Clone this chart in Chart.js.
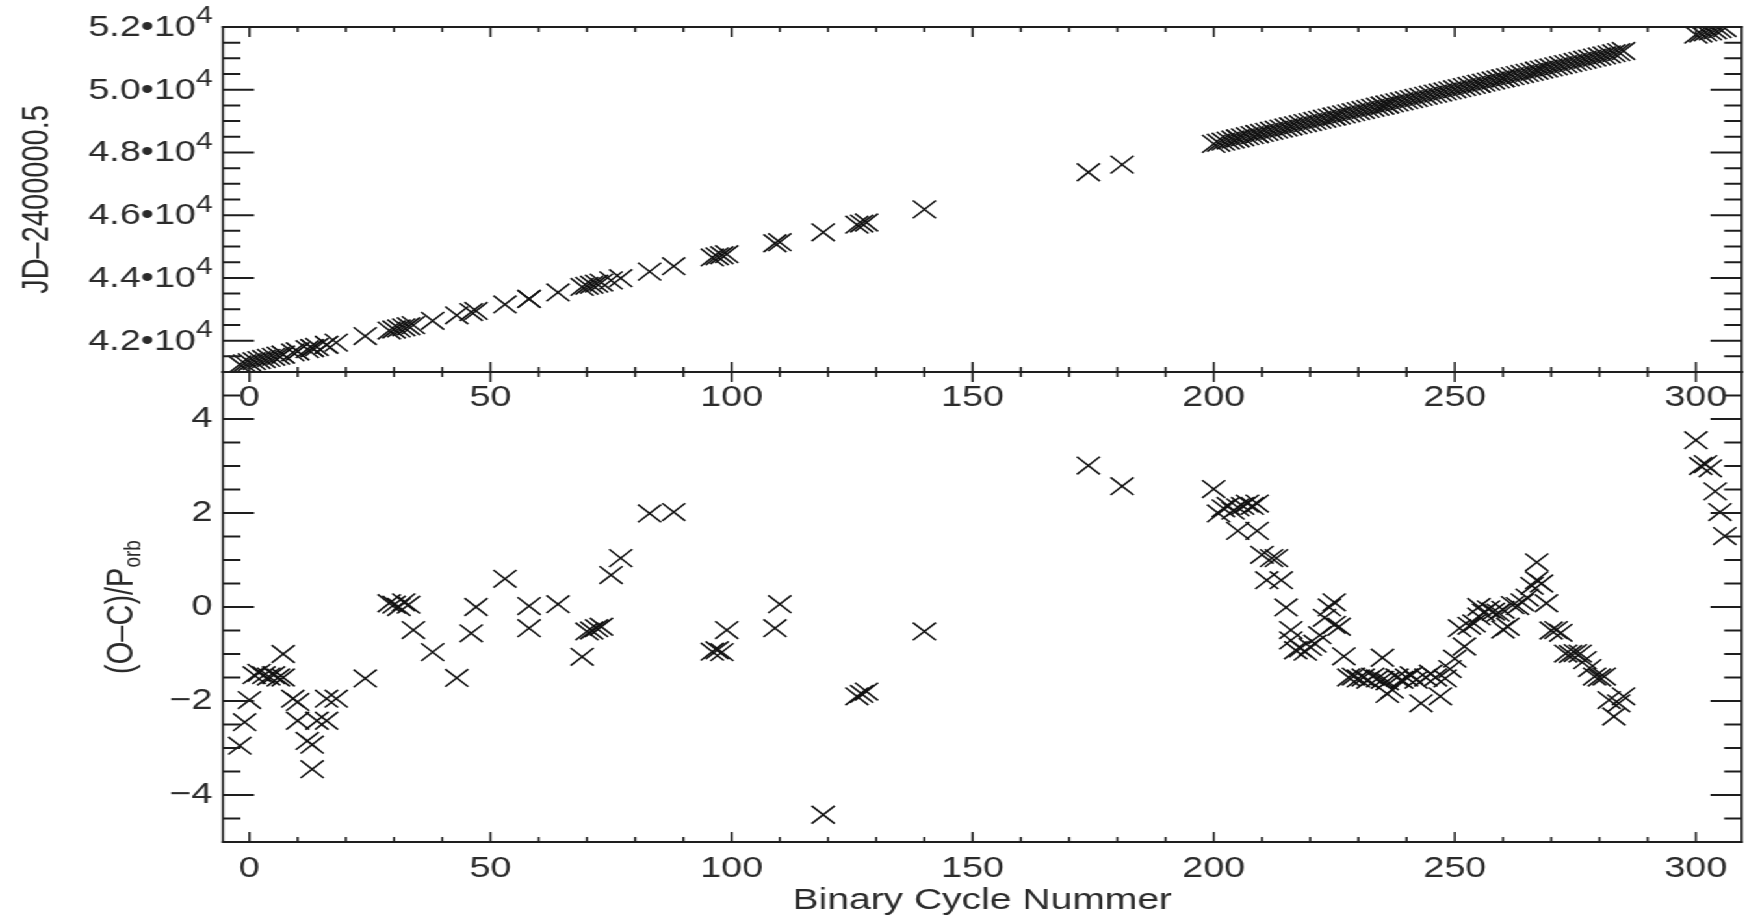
<!DOCTYPE html>
<html>
<head>
<meta charset="utf-8">
<title>Binary cycle timing</title>
<script src="https://cdn.jsdelivr.net/npm/chart.js@4.4.1/dist/chart.umd.min.js"></script>
<style>
  html, body { margin: 0; padding: 0; background: #fff; overflow: hidden; }
  /* the figure is drawn narrow and stretched sideways, like the printed plot */
  #stage { position: absolute; left: 0; top: 0; width: 1354px; height: 920px;
           transform: scaleX(1.29985); transform-origin: 0 0; }
  #stage canvas { position: absolute; left: 0; top: 0; }
</style>
</head>
<body>
<div id="stage">
  <canvas id="ocChart" width="1354" height="920"></canvas>
  <canvas id="jdChart" width="1354" height="920"></canvas>
</div>
<script>
// --- DATA ---

// binary cycle number of each timing measurement
const cycles = [
  -2, -1, 0, 1, 2, 3, 4, 5, 6, 7,
  7, 9, 10, 10, 12, 13, 13, 14, 16, 16,
  18, 24, 29, 30, 31, 32, 33, 34, 38, 43,
  46, 47, 53, 58, 58, 64, 69, 70, 71, 72,
  73, 75, 77, 83, 88, 96, 97, 98, 99, 109,
  110, 119, 126, 127, 128, 140, 174, 181,
  200, 201, 202, 203, 204, 205, 205, 206, 207, 208,
  209, 209, 210, 211, 212, 213, 214, 215, 216, 216,
  217, 218, 219, 220, 221, 222, 223, 224, 225, 225,
  226, 227, 228, 229, 230, 231, 232, 233, 234, 235,
  235, 236, 236, 237, 238, 239, 240, 241, 242, 243,
  244, 245, 246, 247, 248, 249, 250, 251, 252, 253,
  254, 255, 255, 256, 257, 258, 259, 260, 260, 261,
  262, 263, 264, 265, 266, 267, 267, 268, 269, 270,
  271, 272, 273, 274, 275, 276, 277, 278, 279, 280,
  281, 282, 283, 284, 285,
  300, 301, 302, 303, 304, 305, 306
];

// (O-C) in units of the orbital period
const ocValues = [
  -2.95, -2.45, -1.98, -1.45, -1.40, -1.45, -1.48, -1.45, -1.50, -1.00,
  -1.50, -1.95, -2.02, -2.42, -2.85, -2.93, -3.45, -2.42, -2.42, -1.95,
  -1.95, -1.52, 0.08, 0.05, 0.00, 0.10, 0.05, -0.49, -0.96, -1.51,
  -0.56, 0.00, 0.60, -0.45, 0.02, 0.06, -1.06, -0.52, -0.50, -0.45,
  -0.42, 0.68, 1.04, 1.99, 2.02, -0.95, -0.92, -0.96, -0.49, -0.45,
  0.06, -4.42, -1.90, -1.85, -1.80, -0.52, 3.01, 2.57,
  2.51, 1.99, 2.10, 2.15, 2.05, 2.12, 1.62, 2.15, 2.20, 2.15,
  2.20, 1.62, 1.11, 0.57, 1.04, 1.04, 0.57, -0.01, -0.49, -0.71,
  -0.92, -0.88, -0.95, -0.85, -0.78, -0.60, -0.23, -0.01, 0.10, -0.38,
  -0.42, -1.05, -1.50, -1.48, -1.52, -1.50, -1.55, -1.48, -1.52, -1.08,
  -1.55, -1.58, -1.85, -1.76, -1.50, -1.55, -1.50, -1.45, -1.55, -2.05,
  -1.50, -1.42, -1.50, -1.90, -1.52, -1.32, -1.10, -0.45, -0.84, -0.40,
  -0.35, -0.20, 0.00, -0.12, -0.05, -0.10, -0.12, -0.48, -0.06, -0.42,
  0.04, 0.02, 0.10, 0.20, 0.45, 0.95, 0.57, 0.50, 0.08, -0.50,
  -0.49, -0.55, -0.99, -1.00, -0.98, -0.99, -1.13, -1.30, -1.48, -1.50,
  -1.48, -1.98, -2.33, -2.05, -1.90,
  3.55, 3.00, 3.04, 2.95, 2.46, 2.02, 1.51
];

// observed time of each measurement, JD - 2400000.5
const jdValues = [
  41240, 41275, 41310, 41345, 41380, 41414, 41449, 41484, 41519, 41554,
  41554, 41623, 41658, 41658, 41728, 41763, 41763, 41797, 41867, 41867,
  41937, 42146, 42320, 42355, 42389, 42424, 42459, 42494, 42633, 42807,
  42912, 42947, 43155, 43330, 43330, 43538, 43713, 43747, 43782, 43817,
  43852, 43922, 43991, 44200, 44374, 44653, 44688, 44722, 44757, 45105,
  45140, 45454, 45697, 45732, 45767, 46185, 47369, 47612,
  48274, 48309, 48344, 48378, 48413, 48448, 48448, 48483, 48518, 48553,
  48587, 48587, 48622, 48657, 48692, 48727, 48761, 48796, 48831, 48831,
  48866, 48901, 48936, 48970, 49005, 49040, 49075, 49110, 49144, 49144,
  49179, 49214, 49249, 49284, 49319, 49353, 49388, 49423, 49458, 49493,
  49493, 49528, 49528, 49562, 49597, 49632, 49667, 49702, 49736, 49771,
  49806, 49841, 49876, 49911, 49945, 49980, 50015, 50050, 50085, 50119,
  50154, 50189, 50189, 50224, 50259, 50294, 50328, 50363, 50363, 50398,
  50433, 50468, 50502, 50537, 50572, 50607, 50607, 50642, 50677, 50711,
  50746, 50781, 50816, 50851, 50886, 50920, 50955, 50990, 51025, 51060,
  51094, 51129, 51164, 51199, 51234,
  51756, 51791, 51826, 51860, 51895, 51930, 51965
];

// labelled tick values
const cycleTicks = [0, 50, 100, 150, 200, 250, 300];
const jdTicks = [42000, 44000, 46000, 48000, 50000, 52000];
const ocTicks = [-4, -2, 0, 2, 4];

// --- STYLE ---
const INK = '#1e1e1e';
const TEXT = '#2b2b2b';
const FONT = "'Liberation Sans', Arial, Helvetica, sans-serif";
const AXIS_LEFT = 171.5;

// frame round the plot box with inward major and minor ticks on all four sides
const frameTicks = {
  id: 'frameTicks',
  afterDatasetsDraw(chart, args, opts) {
    const {ctx, chartArea: a} = chart;
    const xs = chart.scales.x, ys = chart.scales.y;
    ctx.save();
    ctx.strokeStyle = INK;

    ctx.lineWidth = 2;
    ctx.beginPath();
    ctx.moveTo(a.left - 0.8, a.top); ctx.lineTo(a.right + 0.8, a.top);
    ctx.moveTo(a.left - 0.8, a.bottom); ctx.lineTo(a.right + 0.8, a.bottom);
    const yTick = (v, len) => {
      const p = ys.getPixelForValue(v);
      ctx.moveTo(a.left, p); ctx.lineTo(a.left + len, p);
      ctx.moveTo(a.right, p); ctx.lineTo(a.right - len, p);
    };
    for (let v = Math.ceil(ys.min / opts.yMinor) * opts.yMinor; v <= ys.max; v += opts.yMinor) yTick(v, 13.5);
    opts.yMajor.forEach(v => yTick(v, 24));
    ctx.stroke();

    ctx.lineWidth = 1.6;
    ctx.beginPath();
    ctx.moveTo(a.left, a.top - 1); ctx.lineTo(a.left, a.bottom + 1);
    ctx.moveTo(a.right, a.top - 1); ctx.lineTo(a.right, a.bottom + 1);
    const xTick = (v, len) => {
      const p = xs.getPixelForValue(v);
      ctx.moveTo(p, a.bottom); ctx.lineTo(p, a.bottom - len);
      ctx.moveTo(p, a.top); ctx.lineTo(p, a.top + len);
    };
    for (let v = Math.ceil(xs.min / 10) * 10; v <= xs.max; v += 10) xTick(v, 5);
    cycleTicks.forEach(v => xTick(v, 10));
    ctx.stroke();
    ctx.restore();
  }
};

// JD tick labels as mantissa•10 with a raised exponent
const jdLabels = {
  id: 'jdLabels',
  afterDraw(chart) {
    const {ctx, chartArea: a} = chart;
    const ys = chart.scales.y;
    const right = a.left - 8;
    ctx.save();
    ctx.fillStyle = TEXT;
    ctx.textAlign = 'right';
    ctx.textBaseline = 'middle';
    jdTicks.forEach(v => {
      const p = ys.getPixelForValue(v);
      const exp = Math.floor(Math.log10(v));
      ctx.font = `23px ${FONT}`;
      ctx.fillText(String(exp), right, p - 10);
      const w = ctx.measureText(String(exp)).width;
      ctx.font = `29px ${FONT}`;
      ctx.fillText((v / Math.pow(10, exp)).toFixed(1) + '•10', right - w, p + 1);
    });
    ctx.restore();
  }
};

// (O-C)/P_orb axis title, with the subscript set smaller and lower
const ocTitle = {
  id: 'ocTitle',
  afterDraw(chart) {
    const {ctx, chartArea: a} = chart;
    const main = '(O–C)/P', sub = 'orb';
    ctx.save();
    ctx.translate(94, (a.top + a.bottom) / 2);
    ctx.rotate(-Math.PI / 2);
    ctx.fillStyle = TEXT;
    ctx.textBaseline = 'middle';
    ctx.font = `29px ${FONT}`;
    const w1 = ctx.measureText(main).width;
    ctx.font = `19px ${FONT}`;
    const w2 = ctx.measureText(sub).width;
    const x0 = -(w1 + w2) / 2;
    ctx.font = `29px ${FONT}`;
    ctx.fillText(main, x0, 0);
    ctx.font = `19px ${FONT}`;
    ctx.fillText(sub, x0 + w1, 9);
    ctx.restore();
  }
};

function cycleScale(height, padding, title) {
  return {
    type: 'linear',
    min: -5.5,
    max: 309.5,
    grid: { display: false, drawTicks: false },
    border: { display: false },
    afterBuildTicks: s => { s.ticks = cycleTicks.map(v => ({ value: v })); },
    afterFit: s => { s.height = height; },
    ticks: { padding, color: TEXT, maxRotation: 0, autoSkip: false, font: { family: FONT, size: 29 } },
    title: title ? {
      display: true, text: title, color: TEXT,
      font: { family: FONT, size: 30 }, padding: { top: 0, bottom: 1 }
    } : { display: false }
  };
}

function crosses(values) {
  return {
    data: cycles.map((c, i) => ({ x: c, y: values[i] })),
    pointStyle: 'crossRot',
    pointRadius: 12.5,
    pointBorderWidth: 1.6,
    pointBorderColor: '#111',
    pointBackgroundColor: '#111',
    showLine: false,
    clip: 0
  };
}

const common = {
  responsive: false,
  animation: false,
  events: [],
  plugins: { legend: { display: false }, tooltip: { enabled: false } }
};

// lower panel: (O-C) against cycle number
new Chart(document.getElementById('ocChart'), {
  type: 'scatter',
  data: { datasets: [crosses(ocValues)] },
  plugins: [frameTicks, ocTitle],
  options: {
    ...common,
    layout: { padding: { top: 372, right: 7, left: 0, bottom: 0 } },
    plugins: { ...common.plugins, frameTicks: { yMajor: ocTicks, yMinor: 0.5 } },
    scales: {
      x: cycleScale(78, 10, 'Binary Cycle Nummer'),
      y: {
        type: 'linear', min: -5, max: 5,
        grid: { display: false, drawTicks: false },
        border: { display: false },
        afterBuildTicks: s => { s.ticks = ocTicks.map(v => ({ value: v })); },
        afterFit: s => { s.width = AXIS_LEFT; },
        ticks: {
          padding: 8, color: TEXT, font: { family: FONT, size: 29 },
          callback: v => v < 0 ? '\u2212' + Math.abs(v) : String(v)
        }
      }
    }
  }
});

// upper panel: observed JD against cycle number
new Chart(document.getElementById('jdChart'), {
  type: 'scatter',
  data: { datasets: [crosses(jdValues)] },
  plugins: [frameTicks, jdLabels],
  options: {
    ...common,
    layout: { padding: { top: 27, right: 7, left: 0, bottom: 0 } },
    plugins: { ...common.plugins, frameTicks: { yMajor: jdTicks, yMinor: 500 } },
    scales: {
      x: cycleScale(548, 9, null),
      y: {
        type: 'linear', min: 41000, max: 52000,
        grid: { display: false, drawTicks: false },
        border: { display: false },
        afterBuildTicks: s => { s.ticks = jdTicks.map(v => ({ value: v })); },
        afterFit: s => { s.width = AXIS_LEFT; },
        ticks: { display: false },
        title: {
          display: true, text: 'JD–2400000.5', color: TEXT,
          font: { family: FONT, size: 29 }, padding: { top: 11.6, bottom: 0 }
        }
      }
    }
  }
});
</script>
</body>
</html>
